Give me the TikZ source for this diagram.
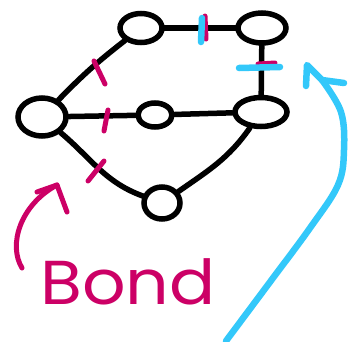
\documentclass[tikz,border=0pt]{standalone}
\usepackage{fontspec}
\setmainfont{Poppins}
\usetikzlibrary{shapes.geometric}
\definecolor{mag}{RGB}{204,0,102}
\definecolor{cya}{RGB}{51,200,250}
\begin{document}
\begin{tikzpicture}[x=1pt,y=-1pt,
 atom/.style={draw=black, line width=5.5pt, ellipse, inner sep=0pt},
 bondline/.style={draw=black, line width=5.5pt, line cap=round},
 magmark/.style={draw=mag, line width=5pt, line cap=round, line join=round},
 cyamark/.style={draw=cya, line width=6.5pt, line cap=round, line join=round},
]
\useasboundingbox (0,0) rectangle (362,341);
% atoms
\node[atom, minimum width=48pt, minimum height=38pt] (A) at (42,117) {};
\node[atom, minimum width=42pt, minimum height=29pt] (B) at (141,28) {};
\node[atom, minimum width=48pt, minimum height=30pt] (C) at (262,28) {};
\node[atom, minimum width=34pt, minimum height=24pt] (D) at (155,115) {};
\node[atom, minimum width=52pt, minimum height=29pt] (E) at (261,112) {};
\node[atom, minimum width=36pt, minimum height=32pt] (F) at (162,203) {};
% bonds
\draw[bondline] (A) to[bend left=4] (B);
\draw[bondline] (B) -- (C);
\draw[bondline] (C) -- (E);
\draw[bondline] (A) -- (D);
\draw[bondline] (D) -- (E);
\draw[bondline] (A) to[out=-40, in=160] (F);
\draw[bondline] (E) to[out=-125, in=35] (F);
% magenta marks
\draw[magmark] (94,61) -- (105,84);
\draw[magmark] (108,110) -- (104,131);
\draw[magmark] (104,161) -- (88,181);
\draw[magmark] (205,16) -- (206,39);
\draw[magmark] (258,64) -- (275,63);
% cyan marks
\draw[cyamark] (202,18) -- (201,42);
\draw[cyamark] (239,68) -- (280,67);
% magenta arrow
\coordinate (mtail) at (22,268);
\coordinate (mtip) at (57,185);
\draw[magmark] (mtail) .. controls (8,245) and (20,205) .. (mtip);
\draw[magmark] (37,192) -- (mtip) -- (67,212);
% cyan arrow
\coordinate (ctail) at (226,341);
\coordinate (ctip) at (307,65);
\coordinate (cjoin) at (322,80);
\draw[cyamark] plot[smooth, tension=0.6] coordinates {(ctail) (270,282) (310,228) (338,185) (344,150) (341,112) (cjoin)};
\draw[cyamark] (306,86) -- (ctip) -- (cjoin) -- (344,83);
% label
\node[text=mag, font=\fontsize{62}{62}\selectfont, xscale=1.1] (bond) at (128,282) {Bond};
\end{tikzpicture}
\end{document}
